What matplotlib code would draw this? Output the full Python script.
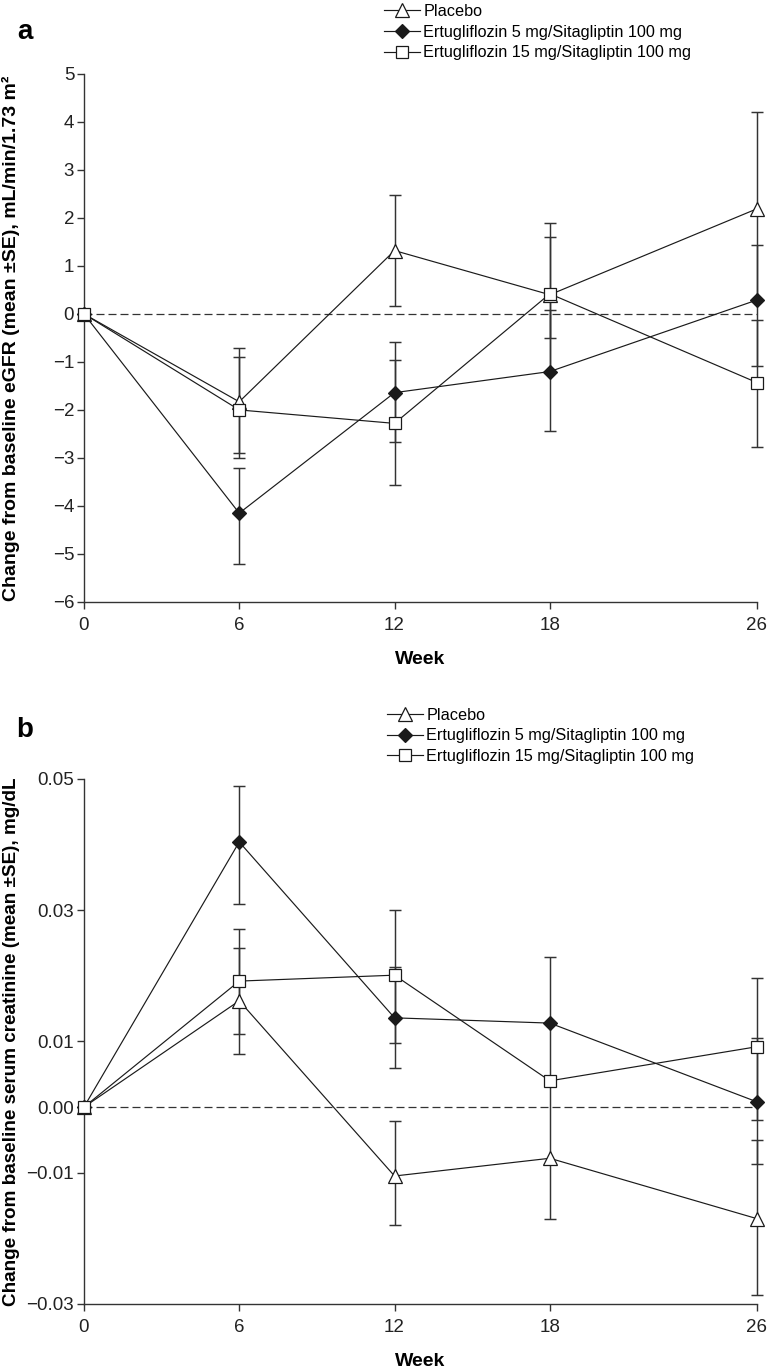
import numpy as np
import matplotlib
matplotlib.use("Agg")
import matplotlib.pyplot as plt

plt.rcParams['font.family'] = ['Liberation Sans', 'DejaVu Sans']

# x axis (weeks)
weeks = [0, 6, 12, 18, 26]
week_labels = ["0", "6", "12", "18", "26"]
series_names = ["Placebo",
                "Ertugliflozin 5 mg/Sitagliptin 100 mg",
                "Ertugliflozin 15 mg/Sitagliptin 100 mg"]

# panel a: eGFR change (mean, lower/upper end of +-SE bar)
placebo_a = [0, -1.83, 1.32, 0.40, 2.19]
placebo_a_lo = [0, -2.90, 0.17, -1.20, 0.29]
placebo_a_hi = [0, -0.70, 2.47, 1.89, 4.21]
e5_a = [0, -4.15, -1.64, -1.20, 0.29]
e5_a_lo = [0, -5.21, -2.67, -2.43, -1.08]
e5_a_hi = [0, -3.20, -0.58, 0.08, 1.44]
e15_a = [0, -2.00, -2.28, 0.42, -1.43]
e15_a_lo = [0, -3.00, -3.56, -0.50, -2.78]
e15_a_hi = [0, -0.89, -0.96, 1.60, -0.12]
yticks_a = [-6, -5, -4, -3, -2, -1, 0, 1, 2, 3, 4, 5]

# panel b: serum creatinine change
placebo_b = [0, 0.0162, -0.0105, -0.0078, -0.0170]
placebo_b_lo = [0, 0.0081, -0.0180, -0.0171, -0.0287]
placebo_b_hi = [0, 0.0242, -0.0021, 0.0040, -0.0050]
e5_b = [0, 0.0404, 0.0136, 0.0128, 0.0008]
e5_b_lo = [0, 0.0310, 0.0060, 0.0040, -0.0087]
e5_b_hi = [0, 0.0489, 0.0213, 0.0229, 0.0106]
e15_b = [0, 0.0192, 0.0201, 0.0040, 0.0092]
e15_b_lo = [0, 0.0111, 0.0098, 0.0040, -0.0020]
e15_b_hi = [0, 0.0272, 0.0301, 0.0040, 0.0196]
yticks_b = [-0.03, -0.01, 0.00, 0.01, 0.03, 0.05]

INK = '#1a1a1a'
GREY = '#333333'
STYLES = [dict(marker='^', ms=10.5, mfc='white'),
          dict(marker='D', ms=6.8, mfc=INK),
          dict(marker='s', ms=8.6, mfc='white')]


def fmt(v, nd):
    return f"{v:.{nd}f}".replace('-', '\u2212')


def draw_panel(ax, data, ylim, yticks, nd, ylabel, ylabel_size):
    ax.axhline(0, color=GREY, lw=0.9, ls=(0, (6.4, 3.2)), zorder=1)
    handles = []
    for name, (m, lo, hi), st in zip(series_names, data, STYLES):
        m, lo, hi = np.array(m), np.array(lo), np.array(hi)
        ax.errorbar(weeks[1:], m[1:], yerr=[m[1:] - lo[1:], hi[1:] - m[1:]],
                    fmt='none', ecolor=GREY, elinewidth=1.05, capsize=4.5,
                    capthick=1.05, zorder=2, clip_on=False)
        h, = ax.plot(weeks, m, color=INK, lw=0.85, marker=st['marker'],
                     ms=st['ms'], mfc=st['mfc'], mec=INK, mew=0.9,
                     zorder=3, clip_on=False, label=name)
        handles.append(h)

    ax.set_xlim(0, 26)
    ax.set_ylim(*ylim)
    ax.set_xticks(weeks)
    ax.set_xticklabels(week_labels)
    ax.set_yticks(yticks)
    ax.set_yticklabels([fmt(v, nd) for v in yticks])
    for s in ['top', 'right']:
        ax.spines[s].set_visible(False)
    for s in ['left', 'bottom']:
        ax.spines[s].set_linewidth(1.0)
        ax.spines[s].set_color(GREY)
    ax.tick_params(direction='out', length=5, width=1.0, color=GREY,
                   labelsize=13.5, labelcolor='#222222')
    ax.tick_params(axis='x', pad=6)
    ax.tick_params(axis='y', pad=2)
    ax.set_ylabel(ylabel, fontsize=ylabel_size, fontweight='bold')
    ax.yaxis.set_label_coords(-0.095, 0.5)
    ax.set_xlabel("Week", fontsize=14, fontweight='bold')
    ax.xaxis.set_label_coords(0.5, -0.093)
    return handles


fig = plt.figure(figsize=(7.7, 13.69), dpi=100)
ax_a = fig.add_axes([0.109, 0.5603, 0.874, 0.3857])
ax_b = fig.add_axes([0.109, 0.0475, 0.874, 0.3835])

h_a = draw_panel(ax_a,
                 [(placebo_a, placebo_a_lo, placebo_a_hi),
                  (e5_a, e5_a_lo, e5_a_hi),
                  (e15_a, e15_a_lo, e15_a_hi)],
                 (-6, 5), yticks_a, 0,
                 "Change from baseline eGFR (mean \u00b1SE), mL/min/1.73 m\u00b2", 14)
h_b = draw_panel(ax_b,
                 [(placebo_b, placebo_b_lo, placebo_b_hi),
                  (e5_b, e5_b_lo, e5_b_hi),
                  (e15_b, e15_b_lo, e15_b_hi)],
                 (-0.03, 0.05), yticks_b, 2,
                 "Change from baseline serum creatinine (mean \u00b1SE), mg/dL", 13.6)

for ax, h, anchor in [(ax_a, h_a, (0.499, 0.997)), (ax_b, h_b, (0.503, 0.483))]:
    ax.legend(h, series_names, loc='upper left', bbox_to_anchor=anchor,
              bbox_transform=fig.transFigure, frameon=False, fontsize=11.7,
              handlelength=2.2, handletextpad=0.2, labelspacing=0.35,
              borderpad=0, borderaxespad=0, numpoints=1)

fig.text(0.032, 0.9766, "a", fontsize=20, fontweight='bold', ha='center', va='center')
fig.text(0.032, 0.4668, "b", fontsize=20, fontweight='bold', ha='center', va='center')

fig.savefig("out.png", dpi=100)
